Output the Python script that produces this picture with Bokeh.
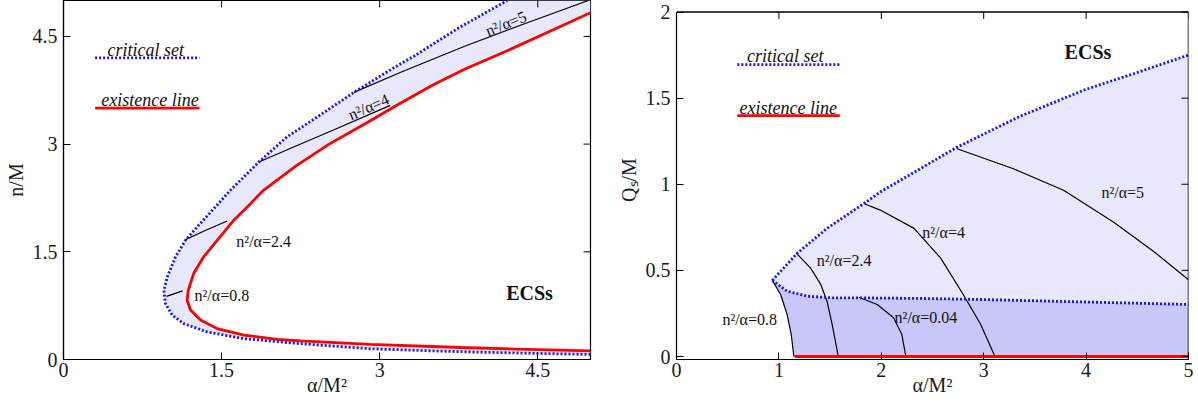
import math
from bokeh.plotting import figure
from bokeh.layouts import row
from bokeh.models import FixedTicker, Range1d, Label
from bokeh.embed import file_html
from bokeh.resources import INLINE

# ---------------- data: left panel (alpha/M^2 , n/M) ----------------
crit_left_x = [5.0, 4.5, 4.0, 3.5, 2.91, 2.25, 1.71, 1.363, 1.14, 1.03, 0.967, 0.952, 0.984, 1.063, 1.157, 1.27, 1.395, 1.585, 1.853, 2.12, 2.41, 2.755, 3.13, 3.32, 3.74, 4.21]
crit_left_y = [0.07, 0.085, 0.10, 0.12, 0.15, 0.22, 0.29, 0.384, 0.50, 0.62, 0.78, 0.96, 1.15, 1.43, 1.66, 1.85, 2.05, 2.36, 2.75, 3.10, 3.38, 3.72, 4.06, 4.22, 4.61, 5.0]
exist_left_x = [5.0, 4.3, 3.77, 2.91, 2.25, 2.03, 1.71, 1.458, 1.30, 1.205, 1.173, 1.183, 1.236, 1.33, 1.458, 1.616, 1.774, 1.90, 2.21, 2.52, 2.87, 3.15, 3.5, 3.8, 4.21, 4.6, 5.0]
exist_left_y = [0.12, 0.145, 0.167, 0.21, 0.26, 0.28, 0.34, 0.43, 0.55, 0.69, 0.825, 0.96, 1.20, 1.43, 1.66, 1.94, 2.17, 2.36, 2.70, 3.0, 3.29, 3.53, 3.82, 4.04, 4.30, 4.56, 4.83]
c08_left_x = [0.977, 1.13]
c08_left_y = [0.88, 0.955]
c24_left_x = [1.157, 1.35, 1.553]
c24_left_y = [1.67, 1.80, 1.93]
c4_left_x = [1.853, 2.2, 2.6, 3.10]
c4_left_y = [2.75, 2.97, 3.22, 3.54]
c5_left_x = [2.755, 3.2, 3.8, 4.4, 4.98]
c5_left_y = [3.72, 4.0, 4.36, 4.69, 5.0]

left_ticks = [0, 1.5, 3, 4.5]
left_tick_labels = ["0", "1.5", "3", "4.5"]

# ---------------- data: right panel (alpha/M^2 , Q_s/M) ----------------
crit_up_x = [0.935, 1.18, 1.47, 1.83, 1.99, 2.74, 3.03, 3.35, 3.98, 4.47, 5.0]
crit_up_y = [0.442, 0.60, 0.744, 0.888, 0.955, 1.215, 1.30, 1.393, 1.547, 1.643, 1.75]
crit_low_x = [0.935, 1.08, 1.28, 1.54, 1.86, 2.38, 2.97, 3.95, 5.0]
crit_low_y = [0.442, 0.379, 0.35, 0.34, 0.34, 0.337, 0.331, 0.317, 0.302]
exist_right_x = [1.153, 5.0]
exist_right_y = [0.0, 0.0]
c08_right_x = [0.935, 1.017, 1.08, 1.12, 1.146]
c08_right_y = [0.442, 0.36, 0.244, 0.129, 0.0]
c24_right_x = [1.17, 1.31, 1.41, 1.47, 1.52, 1.58]
c24_right_y = [0.60, 0.513, 0.417, 0.321, 0.187, 0.0]
c004_right_x = [1.78, 1.96, 2.12, 2.20, 2.24]
c004_right_y = [0.344, 0.302, 0.225, 0.129, 0.0]
c4_right_x = [1.84, 1.99, 2.32, 2.58, 2.80, 2.97, 3.11]
c4_right_y = [0.885, 0.85, 0.744, 0.571, 0.36, 0.187, 0.0]
c5_right_x = [2.74, 3.29, 3.78, 4.27, 4.66, 5.0]
c5_right_y = [1.206, 1.09, 0.965, 0.78, 0.61, 0.446]

right_xticks = [0, 1, 2, 3, 4, 5]
right_xtick_labels = ["0", "1", "2", "3", "4", "5"]
right_yticks = [0, 0.5, 1, 1.5, 2]
right_ytick_labels = ["0", "0.5", "1", "1.5", "2"]

# ---------------- styles ----------------
FONT = "Liberation Serif"
BLUE = "#1414f5"
RED = "#ff0000"
LIGHT = "#e8e8fc"
DARK = "#c8c8f8"
TICK_FS = "20px"
INK = "#1a1a1a"


def style(p, xt, xl, yt, yl, xr, ytop, xlabel, ylabel):
    p.xaxis.ticker = FixedTicker(ticks=xt)
    p.yaxis.ticker = FixedTicker(ticks=yt)
    p.xaxis.major_label_overrides = {t: s for t, s in zip(xt, xl)}
    p.yaxis.major_label_overrides = {t: s for t, s in zip(yt, yl)}
    p.xaxis.axis_label = xlabel
    p.yaxis.axis_label = ylabel
    for ax in (p.xaxis[0], p.yaxis[0]):
        ax.major_tick_in = 7
        ax.major_tick_out = 0
        ax.minor_tick_line_color = None
        ax.major_label_text_font = FONT
        ax.major_label_text_font_size = TICK_FS
        ax.major_label_text_color = INK
        ax.axis_label_text_font = FONT
        ax.axis_label_text_font_size = "20px"
        ax.axis_label_text_font_style = "normal"
        ax.axis_label_text_color = INK
        ax.axis_line_color = "black"
        ax.axis_line_width = 1.2
        ax.major_tick_line_color = "black"
    p.xaxis.major_label_standoff = 3
    p.xaxis.axis_label_standoff = -6
    p.yaxis.major_label_standoff = 6
    p.yaxis.axis_label_standoff = 3
    # mirrored inward ticks on top and right edges
    p.ray(x=xt, y=[ytop] * len(xt), length=7, length_units="screen",
          angle=-math.pi / 2, line_color="black", line_width=1)
    p.ray(x=[xr[1]] * len(yt), y=yt, length=7, length_units="screen",
          angle=math.pi, line_color="black", line_width=1)
    p.xgrid.grid_line_color = None
    p.ygrid.grid_line_color = None
    p.background_fill_color = "white"
    p.border_fill_color = "white"


def txt(p, x, y, s, size="16px", style_="normal", align="left", angle=0.0):
    p.add_layout(Label(x=x, y=y, text=s, text_font=FONT, text_font_size=size,
                       text_font_style=style_, text_align=align,
                       text_baseline="alphabetic", angle=angle, text_color="#111111"))


H = 405

# ---------------- left panel ----------------
XL = (0, 5)
YL = (0, 5)
p1 = figure(width=598, height=H, x_range=Range1d(*XL), y_range=Range1d(*YL),
            title=None, output_backend="svg", toolbar_location=None,
            min_border_left=63, min_border_right=8, min_border_top=0, min_border_bottom=46)
p1.outline_line_color = "black"
p1.outline_line_width = 1.2

band_x = crit_left_x + [XL[1]] + exist_left_x[::-1]
band_y = crit_left_y + [YL[1]] + exist_left_y[::-1]
p1.patch(band_x, band_y, fill_color=LIGHT, line_color=None)
for xs, ys in ((c08_left_x, c08_left_y), (c24_left_x, c24_left_y),
               (c4_left_x, c4_left_y), (c5_left_x, c5_left_y)):
    p1.line(xs, ys, line_color="black", line_width=1.2)
p1.line(exist_left_x, exist_left_y, line_color=RED, line_width=2.8)
p1.line(crit_left_x, crit_left_y, line_color=BLUE, line_width=2.8, line_dash="2 2")
style(p1, left_ticks, left_tick_labels, left_ticks, left_tick_labels, XL, YL[1], "α/M²", "n/M")

# legend
p1.line([0.30, 1.29], [4.2, 4.2], line_color=BLUE, line_width=2.8, line_dash="2 2")
p1.line([0.30, 1.29], [3.5, 3.5], line_color=RED, line_width=2.8)
txt(p1, 0.78, 4.31, "critical set", size="18px", style_="italic", align="center")
txt(p1, 0.82, 3.61, "existence line", size="18px", style_="italic", align="center")

txt(p1, 1.243, 0.895, "n²/α=0.8")
txt(p1, 1.64, 1.64, "n²/α=2.4")
txt(p1, 2.71, 3.40, "n²/α=4", angle=0.41)
txt(p1, 4.01, 4.57, "n²/α=5", angle=0.38)
txt(p1, 4.2, 0.92, "ECSs", size="20px", style_="bold")

# ---------------- right panel ----------------
XR = (0, 5)
YR = (-0.0174, 2.0668)   # visible box top sits at Q_s/M = 2
YBOX = 2
p2 = figure(width=600, height=H, x_range=Range1d(*XR), y_range=Range1d(*YR),
            title=None, output_backend="svg", toolbar_location=None,
            min_border_left=78, min_border_right=10, min_border_top=0, min_border_bottom=46)
p2.outline_line_color = None

light_x = crit_up_x + crit_low_x[::-1]
light_y = crit_up_y + crit_low_y[::-1]
p2.patch(light_x, light_y, fill_color=LIGHT, line_color=None)
dark_x = crit_low_x + exist_right_x[::-1] + c08_right_x[::-1]
dark_y = crit_low_y + exist_right_y[::-1] + c08_right_y[::-1]
p2.patch(dark_x, dark_y, fill_color=DARK, line_color=None)

for xs, ys in ((c08_right_x, c08_right_y), (c24_right_x, c24_right_y),
               (c004_right_x, c004_right_y), (c4_right_x, c4_right_y),
               (c5_right_x, c5_right_y)):
    p2.line(xs, ys, line_color="black", line_width=1.2)
p2.line(exist_right_x, exist_right_y, line_color=RED, line_width=3)
p2.line(crit_up_x, crit_up_y, line_color=BLUE, line_width=2.8, line_dash="2 2")
p2.line(crit_low_x, crit_low_y, line_color=BLUE, line_width=2.8, line_dash="2 2")
style(p2, right_xticks, right_xtick_labels, right_yticks, right_ytick_labels, XR, YBOX,
      "α/M²", "Qₛ/M")
p2.yaxis.bounds = (YR[0], YBOX)
# box edges (top and right) of the right panel
p2.line([XR[0], XR[1], XR[1]], [YBOX, YBOX, YR[0]], line_color="black", line_width=1.5)

p2.line([0.594, 1.595], [1.695, 1.695], line_color=BLUE, line_width=2.8, line_dash="2 2")
p2.line([0.594, 1.595], [1.398, 1.398], line_color=RED, line_width=2.8)
txt(p2, 1.062, 1.744, "critical set", size="18px", style_="italic", align="center")
txt(p2, 1.092, 1.44, "existence line", size="18px", style_="italic", align="center")

txt(p2, 4.15, 0.955, "n²/α=5")
txt(p2, 2.40, 0.72, "n²/α=4")
txt(p2, 1.37, 0.558, "n²/α=2.4")
txt(p2, 2.13, 0.225, "n²/α=0.04")
txt(p2, 0.448, 0.216, "n²/α=0.8")
txt(p2, 3.79, 1.765, "ECSs", size="20px", style_="bold")

layout = row(p1, p2)
open("out.html", "w").write(file_html(layout, INLINE))
